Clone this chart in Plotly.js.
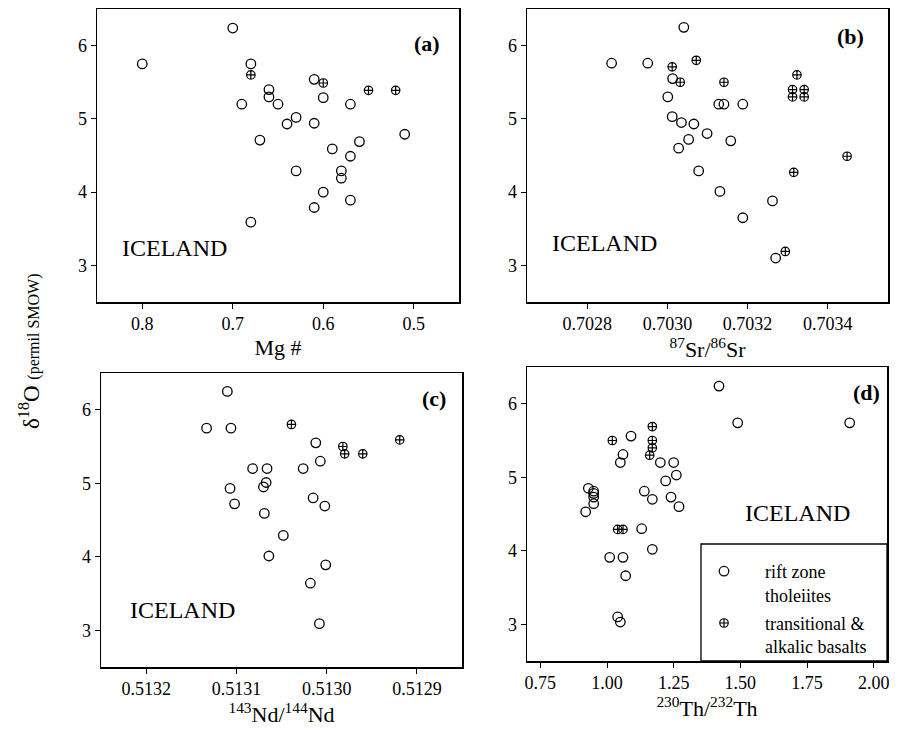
<!DOCTYPE html>
<html>
<head>
<meta charset="utf-8">
<script src="https://cdn.plot.ly/plotly-3.0.1.min.js"></script>
<style>html,body{margin:0;padding:0;background:#fff;}#chart{width:902px;height:730px;}</style>
</head>
<body>
<div id="chart"></div>
<script>
// ---------- data ----------
// (a) Mg# vs d18O
const mgRift   = [0.70,0.80,0.68,0.69,0.67,0.68,0.66,0.66,0.65,0.63,0.64,0.61,0.60,0.61,0.57,0.51,0.59,0.56,0.57,0.63,0.58,0.58,0.60,0.61,0.57];
const oMgRift  = [6.24,5.75,5.75,5.20,4.71,3.59,5.40,5.30,5.20,5.02,4.93,5.54,5.29,4.94,5.20,4.79,4.59,4.69,4.49,4.29,4.29,4.19,4.00,3.79,3.89];
const mgAlk    = [0.68,0.60,0.55,0.52];
const oMgAlk   = [5.60,5.49,5.39,5.39];
// (b) 87Sr/86Sr vs d18O
const srRift   = [0.702861,0.702951,0.703013,0.703001,0.703041,0.703012,0.703035,0.703066,0.703053,0.703028,0.703078,0.703128,0.703141,0.703188,0.703099,0.703158,0.703131,0.703188,0.703262,0.703270];
const oSrRift  = [5.76,5.76,5.55,5.30,6.25,5.03,4.95,4.93,4.72,4.60,4.29,5.20,5.20,5.20,4.80,4.70,4.01,3.65,3.88,3.10];
const srAlk    = [0.703012,0.703032,0.703072,0.703141,0.703294,0.703323,0.703312,0.703341,0.703312,0.703341,0.703315,0.703448];
const oSrAlk   = [5.71,5.50,5.80,5.50,3.19,5.60,5.40,5.40,5.30,5.30,4.27,4.49];
// (c) 143Nd/144Nd vs d18O
const ndRift   = [0.513110,0.513133,0.513106,0.513012,0.513007,0.513082,0.513066,0.513026,0.513067,0.513070,0.513107,0.513102,0.513015,0.513002,0.513069,0.513048,0.513064,0.513001,0.513018,0.513008];
const oNdRift  = [6.25,5.75,5.75,5.55,5.30,5.20,5.20,5.20,5.01,4.95,4.93,4.72,4.80,4.69,4.59,4.29,4.01,3.89,3.64,3.09];
const ndAlk    = [0.513039,0.512982,0.512980,0.512960,0.512919];
const oNdAlk   = [5.80,5.50,5.40,5.40,5.59];
// (d) 230Th/232Th vs d18O
const thRift   = [1.42,1.49,1.91,1.09,1.06,1.05,1.20,1.25,1.26,1.22,1.14,1.17,1.24,1.27,0.93,0.95,0.95,0.95,0.95,0.92,1.13,1.17,1.01,1.06,1.07,1.04,1.05];
const oThRift  = [6.24,5.74,5.74,5.56,5.31,5.20,5.20,5.20,5.03,4.95,4.81,4.70,4.73,4.60,4.85,4.81,4.78,4.73,4.64,4.53,4.30,4.02,3.91,3.91,3.66,3.10,3.03];
const thAlk    = [1.17,1.17,1.17,1.16,1.02,1.04,1.06];
const oThAlk   = [5.69,5.50,5.40,5.30,5.50,4.29,4.29];

const seriesNames = ['rift zone<br>tholeiites', 'transitional &amp;<br>alkalic basalts'];
const panelLabels = ['(a)','(b)','(c)','(d)'];
const xTitles = ['Mg #', '<sup>87</sup>Sr/<sup>86</sup>Sr', '<sup>143</sup>Nd/<sup>144</sup>Nd', '<sup>230</sup>Th/<sup>232</sup>Th'];

// ---------- helpers ----------
const W = 902, H = 730;
const px = x => x / W;
const py = y => 1 - y / H;
const FONT = 'Liberation Serif';

const riftMarker = {symbol:'circle-open', size:9.5, color:'#000', line:{width:1.3, color:'#000'}};
const alkMarker  = {symbol:'circle-cross-open', size:8.5, color:'#000', line:{width:1.2, color:'#000'}};

const pairs = [
  [mgRift, oMgRift, mgAlk, oMgAlk],
  [srRift, oSrRift, srAlk, oSrAlk],
  [ndRift, oNdRift, ndAlk, oNdAlk],
  [thRift, oThRift, thAlk, oThAlk]
];
const traces = [];
pairs.forEach((p, i) => {
  const sfx = i === 0 ? '' : String(i + 1);
  traces.push({x:p[0], y:p[1], type:'scatter', mode:'markers', marker:riftMarker,
    name:seriesNames[0], legendgroup:'rift', showlegend:i===0, xaxis:'x'+sfx, yaxis:'y'+sfx, hoverinfo:'x+y'});
});
pairs.forEach((p, i) => {
  const sfx = i === 0 ? '' : String(i + 1);
  traces.push({x:p[2], y:p[3], type:'scatter', mode:'markers', marker:alkMarker,
    name:seriesNames[1], legendgroup:'alk', showlegend:i===0, xaxis:'x'+sfx, yaxis:'y'+sfx, hoverinfo:'x+y'});
});

function xAxis(domain, range, dtick, tick0, fmt, title, anchor) {
  return {domain, range, dtick, tick0, tickformat:fmt, anchor,
    showline:true, mirror:true, linecolor:'#000', linewidth:1.5,
    ticks:'outside', ticklen:5, tickwidth:1, tickcolor:'#000',
    showgrid:false, zeroline:false, automargin:false,
    tickfont:{family:FONT, size:18, color:'#000'},
    title:{text:title, font:{family:FONT, size:22, color:'#000'}, standoff:6}};
}
function yAxis(domain, anchor) {
  return {domain, range:[2.5, 6.5], dtick:1, tick0:3, anchor,
    showline:true, mirror:true, linecolor:'#000', linewidth:1.5,
    ticks:'outside', ticklen:5, tickwidth:1, tickcolor:'#000',
    showgrid:false, zeroline:false, automargin:false,
    tickfont:{family:FONT, size:18, color:'#000'}};
}

const annotations = [];
const labelPos = [[442,43],[866,36],[448,398],[882,393]];
panelLabels.forEach((t, i) => annotations.push({text:t, xref:'paper', yref:'paper',
  x:px(labelPos[i][0]), y:py(labelPos[i][1]), xanchor:'right', yanchor:'middle', showarrow:false,
  font:{family:FONT, size:22, color:'#000', weight:'bold'}}));
const icePos = [[120,248],[550,243],[128,610],[743,513]];
icePos.forEach(p => annotations.push({text:'ICELAND', xref:'paper', yref:'paper',
  x:px(p[0]), y:py(p[1]), xanchor:'left', yanchor:'middle', showarrow:false,
  font:{family:FONT, size:24, color:'#000'}}));
annotations.push({text:'δ<sup>18</sup>O <span style="font-size:16px">(permil SMOW)</span>', xref:'paper', yref:'paper',
  x:px(29), y:py(351), xanchor:'center', yanchor:'middle', textangle:-90, showarrow:false,
  font:{family:FONT, size:23, color:'#000'}});

const layout = {
  width:W, height:H, margin:{l:0, r:0, t:0, b:0, pad:0},
  paper_bgcolor:'#fff', plot_bgcolor:'rgba(0,0,0,0)',
  font:{family:FONT, color:'#000'},
  xaxis:  xAxis([97/W, 459/W], [0.85, 0.45], 0.1, 0.5, '.1f', xTitles[0], 'y'),
  xaxis2: xAxis([527/W, 888/W], [0.70265, 0.70355], 0.0002, 0.7028, '.4f', xTitles[1], 'y2'),
  xaxis3: xAxis([101/W, 462/W], [0.51325, 0.51285], 0.0001, 0.5129, '.4f', xTitles[2], 'y3'),
  xaxis4: xAxis([527/W, 887/W], [0.70, 2.05], 0.25, 0.75, '.2f', xTitles[3], 'y4'),
  yaxis:  yAxis([1-302/H, 1-9/H], 'x'),
  yaxis2: yAxis([1-302/H, 1-9/H], 'x2'),
  yaxis3: yAxis([1-667/H, 1-373/H], 'x3'),
  yaxis4: yAxis([1-661/H, 1-367/H], 'x4'),
  showlegend:true,
  legend:{x:px(683), y:py(553), xanchor:'left', yanchor:'top', bgcolor:'rgba(0,0,0,0)',
    borderwidth:0, itemwidth:72, valign:'top', tracegroupgap:2,
    font:{family:FONT, size:18, color:'#000'}},
  shapes:[{type:'rect', xref:'paper', yref:'paper', x0:px(701), x1:px(887), y0:py(661), y1:py(544),
    line:{color:'#000', width:1.3}, fillcolor:'rgba(0,0,0,0)'}],
  annotations
};

Plotly.newPlot('chart', traces, layout, {displayModeBar:false, staticPlot:true});
</script>
</body>
</html>
